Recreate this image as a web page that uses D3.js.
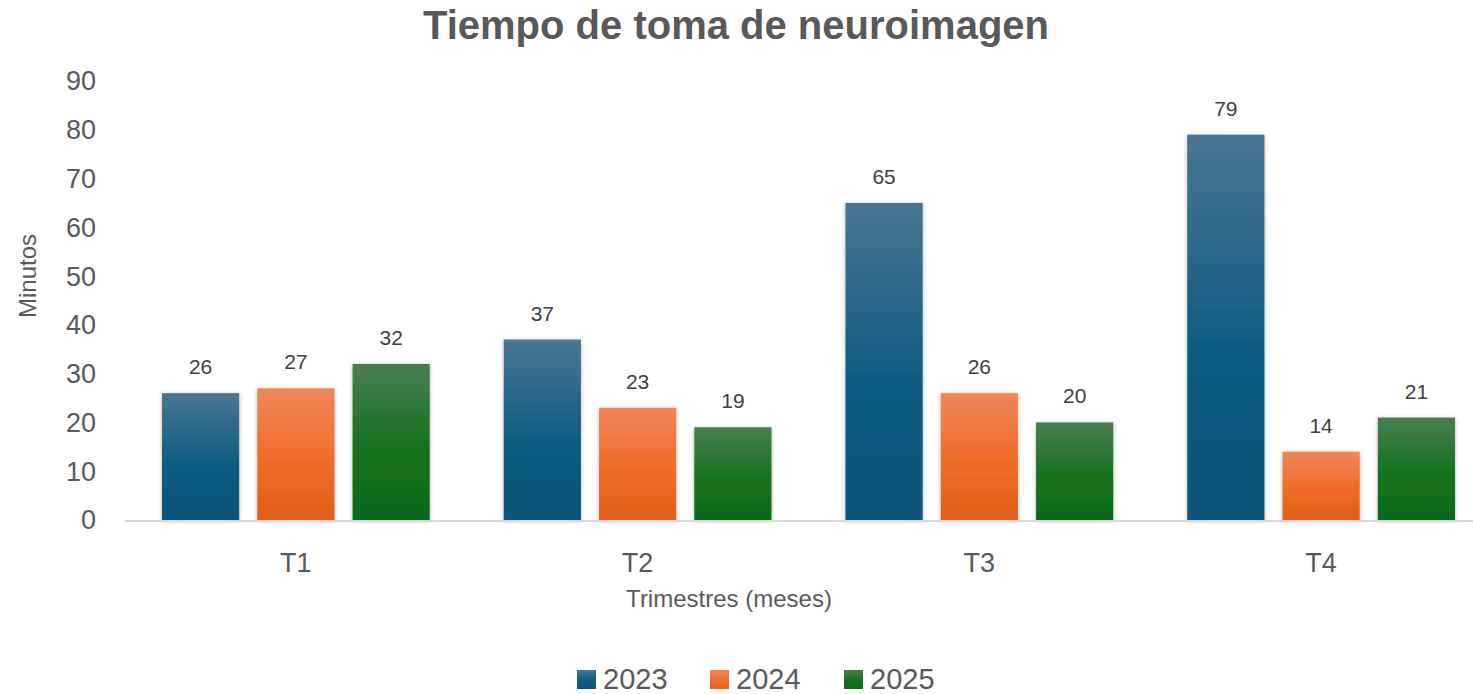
<!DOCTYPE html>
<html>
<head>
<meta charset="utf-8">
<script src="https://cdn.jsdelivr.net/npm/d3@7"></script>
<style>
  body { margin: 0; background: #fff; }
  text { font-family: "Liberation Sans", Arial, sans-serif; }
</style>
</head>
<body>
<script>
// chart data
var trimestres = ["T1", "T2", "T3", "T4"];
var years = ["2023", "2024", "2025"];
var v2023 = [26, 37, 65, 79];
var v2024 = [27, 23, 26, 14];
var v2025 = [32, 19, 20, 21];
var yTicks = [0, 10, 20, 30, 40, 50, 60, 70, 80, 90];

var series = [v2023, v2024, v2025];
var colors = {
  "2023": ["#4a7591", "#0f5d82", "#0b5479"],
  "2024": ["#ef865b", "#f06c28", "#e25e1a"],
  "2025": ["#4b7d50", "#14721f", "#0f6a1a"]
};

var width = 1473, height = 694;
var margin = {top: 81, right: -19, bottom: 174, left: 125};

var svg = d3.select("body").append("svg")
    .attr("width", width)
    .attr("height", height);

var defs = svg.append("defs");
years.forEach(function(yr) {
  var g = defs.append("linearGradient")
      .attr("id", "grad" + yr)
      .attr("x1", 0).attr("y1", 0).attr("x2", 0).attr("y2", 1);
  g.append("stop").attr("offset", "0%").attr("stop-color", colors[yr][0]);
  g.append("stop").attr("offset", "55%").attr("stop-color", colors[yr][1]);
  g.append("stop").attr("offset", "100%").attr("stop-color", colors[yr][2]);
});
var f = defs.append("filter").attr("id", "shadow")
    .attr("x", "-20%").attr("y", "-20%").attr("width", "140%").attr("height", "140%");
f.append("feDropShadow").attr("dx", 0).attr("dy", 1).attr("stdDeviation", 2)
    .attr("flood-color", "#000").attr("flood-opacity", 0.3);

var x0 = d3.scaleBand()
    .domain(trimestres)
    .range([margin.left, width - margin.right]);

var gap = 37;
var x1 = d3.scaleBand()
    .domain(years)
    .range([gap, x0.bandwidth() - gap])
    .paddingInner(0.19);

var y = d3.scaleLinear()
    .domain([0, 90])
    .range([height - margin.bottom, margin.top]);

// title
svg.append("text")
    .attr("x", 736).attr("y", 39)
    .attr("text-anchor", "middle")
    .style("font-size", "40px").style("font-weight", "bold")
    .style("fill", "#595959")
    .text("Tiempo de toma de neuroimagen");

// y tick labels
svg.append("g").selectAll("text")
    .data(yTicks)
    .enter().append("text")
    .attr("x", 96)
    .attr("y", function(d) { return y(d); })
    .attr("dy", "0.35em")
    .attr("text-anchor", "end")
    .style("font-size", "27px").style("fill", "#595959")
    .text(function(d) { return d; });

// bars
var groups = svg.append("g").selectAll("g")
    .data(trimestres)
    .enter().append("g")
    .attr("transform", function(d) { return "translate(" + x0(d) + ",0)"; });

groups.selectAll("rect")
    .data(function(d, i) {
      return years.map(function(yr, j) { return {year: yr, value: series[j][i]}; });
    })
    .enter().append("rect")
    .attr("x", function(d) { return x1(d.year); })
    .attr("y", function(d) { return y(d.value); })
    .attr("width", x1.bandwidth())
    .attr("height", function(d) { return y(0) - y(d.value); })
    .attr("fill", function(d) { return "url(#grad" + d.year + ")"; })
    .attr("filter", "url(#shadow)");

groups.selectAll("text")
    .data(function(d, i) {
      return years.map(function(yr, j) { return {year: yr, value: series[j][i]}; });
    })
    .enter().append("text")
    .attr("x", function(d) { return x1(d.year) + x1.bandwidth() / 2; })
    .attr("y", function(d) { return y(d.value) - 19; })
    .attr("text-anchor", "middle")
    .style("font-size", "21px").style("fill", "#404040")
    .text(function(d) { return d.value; });

// x axis line
svg.append("line")
    .attr("x1", margin.left).attr("x2", width)
    .attr("y1", y(0) + 1).attr("y2", y(0) + 1)
    .style("stroke", "#d9d9d9").style("stroke-width", 2);

// category labels
svg.append("g").selectAll("text")
    .data(trimestres)
    .enter().append("text")
    .attr("x", function(d) { return x0(d) + x0.bandwidth() / 2; })
    .attr("y", 572)
    .attr("text-anchor", "middle")
    .style("font-size", "27px").style("fill", "#595959")
    .text(function(d) { return d; });

// axis titles
svg.append("text")
    .attr("x", 729).attr("y", 607)
    .attr("text-anchor", "middle")
    .style("font-size", "24px").style("fill", "#595959")
    .text("Trimestres (meses)");

svg.append("text")
    .attr("transform", "translate(36,276) rotate(-90)")
    .attr("text-anchor", "middle")
    .style("font-size", "24px").style("fill", "#595959")
    .text("Minutos");

// legend
var legendX = [577, 710, 844];
var legend = svg.append("g").selectAll("g")
    .data(years)
    .enter().append("g")
    .attr("transform", function(d, i) { return "translate(" + legendX[i] + ",670)"; });

legend.append("rect")
    .attr("width", 19).attr("height", 19)
    .attr("fill", function(d) { return "url(#grad" + d + ")"; });

legend.append("text")
    .attr("x", 26).attr("y", 19)
    .style("font-size", "29px").style("fill", "#595959")
    .text(function(d) { return d; });
</script>
</body>
</html>
